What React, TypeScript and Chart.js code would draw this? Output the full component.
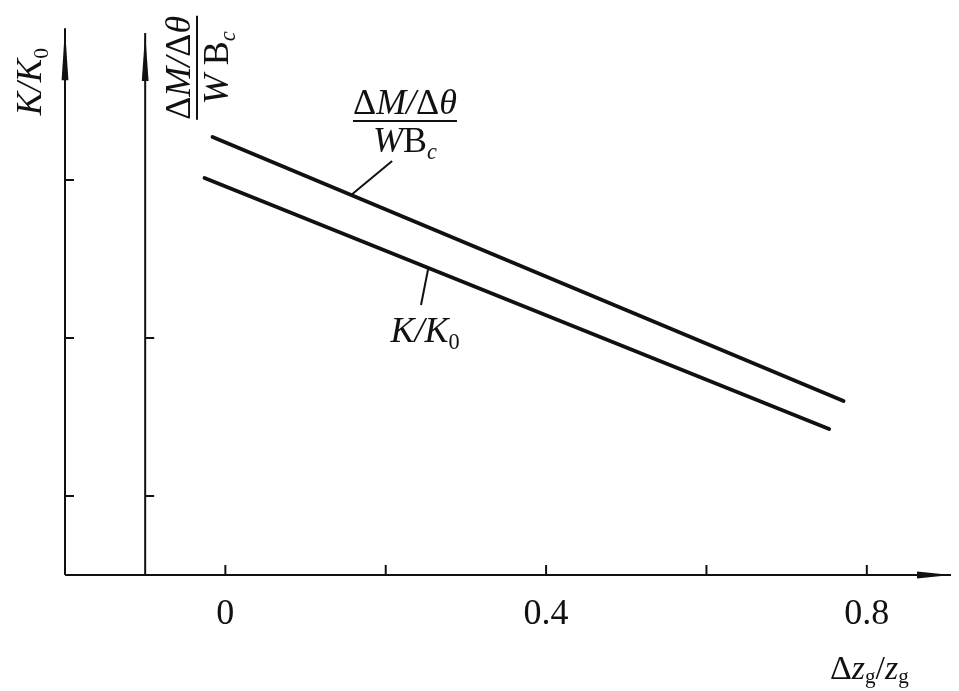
import React, { useEffect, useRef } from "react";
import { Chart, registerables } from "chart.js";

Chart.register(...registerables);

// ---- data ----
const xTicks = [0, 0.2, 0.4, 0.6, 0.8];
const xTickLabels = ["0", "", "0.4", "", "0.8"];
const leftAxisTicks = [0.5, 1.5, 2.5];
const secondAxisTicks = [0.5, 1.5];
const secondAxisX = -0.1;

const momentX = [-0.016, 0.771];
const momentY = [2.772, 1.101];
const stiffX = [-0.026, 0.753];
const stiffY = [2.513, 0.924];

// leader lines (data units): [x1, y1, x2, y2]
const momentLeader = [0.208, 2.62, 0.158, 2.41];
const stiffLeader = [0.253, 1.94, 0.244, 1.709];

const X_MIN = -0.2;
const X_MAX = 0.9;
const Y_MIN = 0;
const Y_MAX = 3.5;

const SERIF = '"Liberation Serif", "Times New Roman", serif';

type Seg = { t: string; italic?: boolean; sub?: boolean };

const momentNum: Seg[] = [
  { t: "Δ" },
  { t: "M", italic: true },
  { t: "/", italic: true },
  { t: "Δ" },
  { t: "θ", italic: true },
];
const momentDen: Seg[] = [
  { t: "W", italic: true },
  { t: "B" },
  { t: "c", italic: true, sub: true },
];
const momentDenAxis: Seg[] = [
  { t: "W ", italic: true },
  { t: "B" },
  { t: "c", italic: true, sub: true },
];
const stiffLabel: Seg[] = [
  { t: "K", italic: true },
  { t: "/", italic: true },
  { t: "K", italic: true },
  { t: "0", sub: true },
];
const xTitle: Seg[] = [
  { t: "Δ" },
  { t: "z", italic: true },
  { t: "g", sub: true },
  { t: "/" },
  { t: "z", italic: true },
  { t: "g", sub: true },
];

function segFont(s: Seg, size: number) {
  const sz = s.sub ? size * 0.62 : size;
  return `${s.italic ? "italic " : ""}${sz}px ${SERIF}`;
}
function measureSegs(ctx: CanvasRenderingContext2D, segs: Seg[], size: number) {
  let w = 0;
  for (const s of segs) {
    ctx.font = segFont(s, size);
    w += ctx.measureText(s.t).width;
  }
  return w;
}
function drawSegs(
  ctx: CanvasRenderingContext2D,
  segs: Seg[],
  x: number,
  y: number,
  size: number,
  subShift = 0.2
) {
  ctx.textAlign = "left";
  ctx.textBaseline = "alphabetic";
  for (const s of segs) {
    ctx.font = segFont(s, size);
    ctx.fillText(s.t, x, y + (s.sub ? size * subShift : 0));
    x += ctx.measureText(s.t).width;
  }
}
function drawFraction(
  ctx: CanvasRenderingContext2D,
  num: Seg[],
  den: Seg[],
  cx: number,
  barY: number,
  size: number
) {
  const nw = measureSegs(ctx, num, size);
  const dw = measureSegs(ctx, den, size);
  const bw = Math.max(nw, dw);
  drawSegs(ctx, num, cx - nw / 2, barY - 7, size);
  drawSegs(ctx, den, cx - dw / 2, barY + 31, size);
  ctx.beginPath();
  ctx.lineWidth = 2;
  ctx.moveTo(cx - bw / 2, barY);
  ctx.lineTo(cx + bw / 2, barY);
  ctx.stroke();
}

function arrowHead(
  ctx: CanvasRenderingContext2D,
  tipX: number,
  tipY: number,
  dx: number,
  dy: number,
  len: number,
  half: number
) {
  const bx = tipX - dx * len;
  const by = tipY - dy * len;
  const px = -dy;
  const py = dx;
  ctx.beginPath();
  ctx.moveTo(tipX, tipY);
  ctx.lineTo(bx + px * half, by + py * half);
  ctx.lineTo(bx - px * half, by - py * half);
  ctx.closePath();
  ctx.fill();
}

const decorPlugin = {
  id: "decor",
  afterDraw(chart: any) {
    const ctx: CanvasRenderingContext2D = chart.ctx;
    const xs = chart.scales.x;
    const ys = chart.scales.y;
    const X = (v: number) => xs.getPixelForValue(v);
    const Y = (v: number) => ys.getPixelForValue(v);
    ctx.save();
    ctx.strokeStyle = "#111";
    ctx.fillStyle = "#111";
    ctx.lineCap = "butt";

    const x0 = X(X_MIN);
    const y0 = Y(Y_MIN);

    // x axis
    ctx.lineWidth = 2;
    ctx.beginPath();
    ctx.moveTo(x0, y0);
    ctx.lineTo(X(0.905), y0);
    ctx.stroke();
    arrowHead(ctx, X(0.905), y0, 1, 0, 34, 3.4);

    // left y axis
    ctx.beginPath();
    ctx.moveTo(x0, y0);
    ctx.lineTo(x0, Y(3.46));
    ctx.stroke();
    arrowHead(ctx, x0, Y(3.46), 0, -1, 52, 3.4);

    // second y axis
    const x2 = X(secondAxisX);
    ctx.beginPath();
    ctx.moveTo(x2, y0);
    ctx.lineTo(x2, Y(3.43));
    ctx.stroke();
    arrowHead(ctx, x2, Y(3.43), 0, -1, 48, 3.4);

    // ticks
    ctx.lineWidth = 2;
    for (const t of leftAxisTicks) {
      ctx.beginPath();
      ctx.moveTo(x0, Y(t));
      ctx.lineTo(x0 + 9, Y(t));
      ctx.stroke();
    }
    for (const t of secondAxisTicks) {
      ctx.beginPath();
      ctx.moveTo(x2, Y(t));
      ctx.lineTo(x2 + 9, Y(t));
      ctx.stroke();
    }
    xTicks.forEach((t, i) => {
      ctx.beginPath();
      ctx.moveTo(X(t), y0);
      ctx.lineTo(X(t), y0 - 10);
      ctx.stroke();
      const lab = xTickLabels[i];
      if (lab) {
        ctx.font = `36px ${SERIF}`;
        ctx.textAlign = "center";
        ctx.textBaseline = "alphabetic";
        ctx.fillText(lab, X(t), y0 + 49);
      }
    });

    // x axis title
    drawSegs(ctx, xTitle, X(0.754), y0 + 104, 34, 0.12);

    // leader lines
    ctx.lineWidth = 2;
    for (const L of [momentLeader, stiffLeader]) {
      ctx.beginPath();
      ctx.moveTo(X(L[0]), Y(L[1]));
      ctx.lineTo(X(L[2]), Y(L[3]));
      ctx.stroke();
    }

    // curve labels
    drawFraction(ctx, momentNum, momentDen, X(0.224), Y(2.873), 36);
    drawSegs(ctx, stiffLabel, X(0.206), Y(1.475), 36);

    // rotated axis labels
    ctx.save();
    ctx.translate(41, Y(2.91));
    ctx.rotate(-Math.PI / 2);
    drawSegs(ctx, stiffLabel, 0, 0, 35);
    ctx.restore();

    ctx.save();
    ctx.translate(197, Y(3.21));
    ctx.rotate(-Math.PI / 2);
    drawFraction(ctx, momentNum, momentDenAxis, 0, 0, 36);
    ctx.restore();

    ctx.restore();
  },
};

export default function App() {
  const ref = useRef<HTMLCanvasElement | null>(null);
  useEffect(() => {
    if (!ref.current) return;
    const chart = new Chart(ref.current, {
      type: "scatter",
      data: {
        datasets: [
          {
            label: "ΔM/Δθ / W Bc",
            data: momentX.map((x, i) => ({ x, y: momentY[i] })),
            showLine: true,
            borderColor: "#111",
            borderWidth: 3.8,
            pointRadius: 0,
            borderCapStyle: "round",
          },
          {
            label: "K/K0",
            data: stiffX.map((x, i) => ({ x, y: stiffY[i] })),
            showLine: true,
            borderColor: "#111",
            borderWidth: 3.8,
            pointRadius: 0,
            borderCapStyle: "round",
          },
        ],
      },
      options: {
        animation: false,
        responsive: true,
        maintainAspectRatio: false,
        layout: { padding: { left: 65, right: 12, top: 22, bottom: 116 } },
        plugins: { legend: { display: false }, tooltip: { enabled: false } },
        scales: {
          x: { type: "linear", min: X_MIN, max: X_MAX, display: false },
          y: { type: "linear", min: Y_MIN, max: Y_MAX, display: false },
        },
      },
      plugins: [decorPlugin],
    });
    return () => chart.destroy();
  }, []);
  return (
    <div style={{ position: "fixed", left: 0, top: 0, width: 959, height: 691, background: "#fff" }}>
      <canvas ref={ref} />
    </div>
  );
}
